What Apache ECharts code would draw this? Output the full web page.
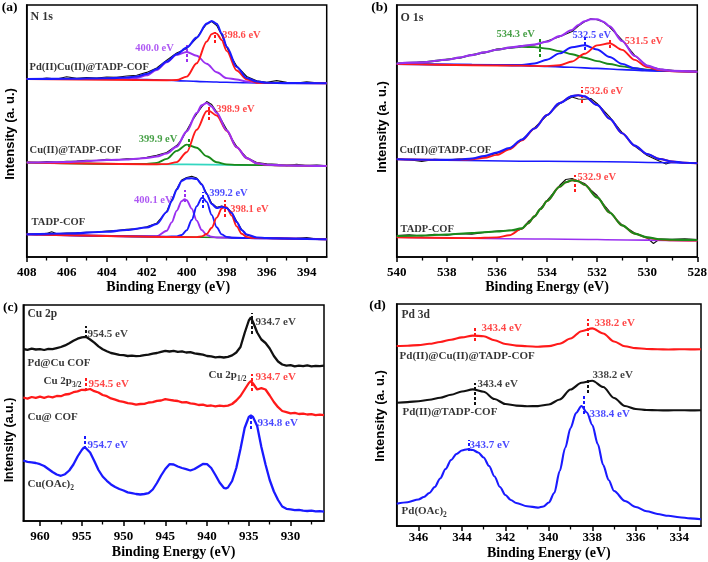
<!DOCTYPE html>
<html><head><meta charset="utf-8">
<script src="https://cdn.jsdelivr.net/npm/echarts@6/dist/echarts.min.js"></script>
<style>html,body{margin:0;padding:0;background:#fff}#c{width:708px;height:562px}</style>
</head><body><div id="c"></div>
<script>
// ================= DATA (binding energy eV, intensity in a.u.) =================
// ---- tick values ----
const aTicks = [394, 396, 398, 400, 402, 404, 406, 408];
const aMinor = [395, 397, 399, 401, 403, 405, 407];
const bTicks = [528, 530, 532, 534, 536, 538, 540];
const bMinor = [529, 531, 533, 535, 537, 539];
const cTicks = [930, 935, 940, 945, 950, 955, 960];
const cMinor = [927.5, 932.5, 937.5, 942.5, 947.5, 952.5, 957.5];
const dTicks = [334, 336, 338, 340, 342, 344, 346];
const dMinor = [335, 337, 339, 341, 343, 345];

// ---- (a) N 1s ----
const aSamples = ['Pd(II)Cu(II)@TADP-COF', 'Cu(II)@TADP-COF', 'TADP-COF'];
const aPeaks = [400.0, 398.6, 399.9, 398.9, 400.1, 399.2, 398.1];
const a1Raw = [[408,178.3],[407.5,177.6],[407,178.9],[406.5,178.0],[406,180.2],[405.5,178.6],[405,179.4],[404.5,179.0],[404,180.0],[403.5,179.6],[403,181.0],[402.5,181.8],[402,184.6],[401.5,189.0],[401,196.8],[400.5,204.0],[400,208.5],[399.75,214.0],[399.5,219.0],[399.25,226.5],[399,233.0],[398.75,235.5],[398.5,231.5],[398.25,222.0],[398,210.0],[397.75,199.5],[397.5,191.0],[397,180.5],[396.5,176.2],[396,174.8],[395.5,176.4],[395,174.6],[394.5,174.0],[394,175.3],[393.5,174.1],[393,174.3]];
const a1Base = [[408,178],[404,178],[402,177.4],[401,176.8],[400,176],[399,175.3],[398,174.7],[397,174.2],[396,174],[393,173.7]];
const a1Purple = [[408,178],[404,178],[403,178.2],[402.5,179],[402,181.6],[401.5,186.9],[401,194.7],[400.5,202.1],[400,205],[399.5,201.3],[399,193.2],[398.5,184.8],[398,178.9],[397.5,177.5],[397,175.5],[396.5,174.2],[396,174],[393,173.7]];
const a1Red = [[408,178],[401,176.8],[400.5,177.0],[400,180.4],[399.5,193.7],[399,215.5],[398.75,222.9],[398.6,224.1],[398.5,223.4],[398.25,217.0],[398,206.1],[397.5,186.5],[397,177.7],[396.5,174.3],[396,174],[393,173.7]];
const a1Env = [[408,178],[406,178.2],[404,178.8],[403,179.5],[402.5,180.5],[402,183],[401.5,188],[401,195.5],[400.5,202.7],[400,209.4],[399.5,219.4],[399,233.4],[398.75,236],[398.5,233.2],[398.25,223.5],[398,210.3],[397.5,190],[397,179],[396.5,175.5],[396,174.2],[395,173.9],[393,173.7]];
const a2Raw = [[408,94.8],[407.5,94.3],[407,95.4],[406.5,94.9],[406,95.6],[405.5,95.9],[405,96.8],[404.5,96.5],[404,97.6],[403.5,97.1],[403,98.2],[402.5,98.0],[402,99.6],[401.5,101.8],[401,104.5],[400.5,111.5],[400.25,117.5],[400,126.5],[399.75,135.5],[399.5,143.0],[399.25,150.0],[399,155.5],[398.75,152.5],[398.5,145.0],[398.25,136.5],[398,127.5],[397.75,118.5],[397.5,110.5],[397,99.5],[396.5,94.5],[396,93.2],[395.5,92.8],[395,91.4],[394.5,92.6],[394,91.3],[393.5,92.0],[393,91.2]];
const a2Base = [[408,94.5],[400,92.6],[396,91.7],[393,91]];
const a2Green = [[408,94.5],[402.5,93.0],[402,93.1],[401.5,94.1],[401,98.1],[400.5,106.1],[400,112.4],[399.5,109.3],[399,100.7],[398.5,94.7],[398,92.6],[397.5,92.1],[393,91]];
const a2Red = [[408,94.5],[401.5,92.8],[401,92.9],[400.5,94.9],[400,104.8],[399.5,127.2],[399,145.7],[398.9,146.3],[398.5,141.5],[398,126.2],[397.5,109.7],[397,98.8],[396.5,93.7],[396,92.1],[395.5,91.6],[393,91]];
const a2Env = [[408,94.5],[406,95],[405,96],[404,97],[403,97.5],[402,99],[401.5,100.5],[401,103.5],[400.5,110.4],[400,125.6],[399.5,144],[399.25,151.6],[399,154],[398.75,150.4],[398.5,144.2],[398,126.6],[397.5,109.8],[397,98.9],[396.5,93.8],[396,92.2],[395,91.5],[394,91.2],[393,91]];
const a3Raw = [[408,22.9],[407.5,22.4],[407,23.6],[406.75,25.2],[406.5,23.3],[406,23.9],[405.5,24.1],[405,24.8],[404.5,25.0],[404,26.0],[403.5,26.4],[403,27.8],[402.5,28.1],[402,30.2],[401.5,33.8],[401,45.5],[400.75,57.0],[400.5,68.0],[400.25,77.0],[400,79.5],[399.75,80.8],[399.5,79.0],[399.25,73.0],[399,63.5],[398.75,53.8],[398.5,49.8],[398.25,51.0],[398,49.5],[397.75,44.5],[397.5,35.8],[397.25,27.5],[397,22.0],[396.5,19.2],[396,18.6],[395.5,19.5],[395,18.3],[394.5,18.6],[394,19.4],[393.5,18.0],[393,18.2]];
const a3Base = [[408,22.7],[400,20.0],[396,18.7],[393,17.7]];
const a3Purple = [[408,22.7],[402,20.7],[401.5,20.9],[401,26.3],[400.75,34.6],[400.5,46.3],[400.25,55.9],[400.1,57.7],[400,56.8],[399.75,48.4],[399.5,36.4],[399.25,27.0],[399,22.1],[398.75,20.2],[398.5,19.5],[396,18.7],[393,17.7]];
const a3Blue = [[408,22.7],[401,20.4],[400.5,20.6],[400.25,22.0],[400,26.7],[399.75,37.0],[399.5,50.7],[399.25,59.0],[399.2,59.3],[399,55.1],[398.75,42.1],[398.5,29.7],[398.25,22.6],[398,20.1],[397.75,19.3],[396,18.7],[393,17.7]];
const a3Red = [[408,22.7],[399.5,19.9],[399.25,20.6],[399,23.0],[398.75,29.2],[398.5,39.4],[398.25,48.5],[398.1,50.3],[398,49.6],[397.75,41.4],[397.5,30.6],[397.25,23.3],[397,20.1],[396.75,19.1],[396.5,18.9],[393,17.7]];
const a3Env = [[408,22.7],[406,23.5],[404,25.3],[403,27],[402,29.5],[401.5,33],[401,45],[400.75,56],[400.5,67.5],[400.25,76],[400,78.5],[399.75,78.7],[399.5,78],[399.25,72.5],[399,63],[398.75,53],[398.5,49],[398.25,50.2],[398,49],[397.75,44],[397.5,35],[397.25,27],[397,22.5],[396.5,19.5],[396,19],[395,18.5],[394,18],[393,17.7]];

// ---- (b) O 1s ----
const bSamples = ['Cu(II)@TADP-COF', 'TADP-COF'];
const bPeaks = [534.3, 532.5, 531.5, 532.6, 532.9];
const b1Raw = [[540,193.8],[539.5,193.4],[539,195.2],[538.5,195.6],[538,197.8],[537.5,198.7],[537,202.4],[536.5,204.0],[536,207.9],[535.5,208.8],[535,211.5],[534.5,212.0],[534,215.9],[533.5,220.3],[533,225.5],[532.75,231.0],[532.5,235.2],[532.25,238.3],[532,237.2],[531.75,235.0],[531.5,230.0],[531.25,223.5],[531,216.8],[530.5,201.6],[530,191.0],[529.5,187.9],[529,186.8],[528.5,185.5],[528,186.0]];
const b1Base = [[540,193],[537,192.4],[535,191.4],[534,190.6],[533,189.7],[532,188.6],[531,187.4],[530,186.3],[529,185.7],[528,185.3]];
const b1Green = [[540,193.5],[539,194.6],[538,197.3],[537.5,199.4],[537,201.9],[536.5,204.6],[536,207.2],[535.5,209.2],[535,210.2],[534.5,209.9],[534,208.4],[533.5,205.9],[533,202.7],[532.5,199.3],[532,195.9],[531.5,193],[531,190.6],[530.5,188.7],[530,187.3],[529.5,186.6],[529,186],[528,185.3]];
const b1Blue = [[540,193],[536,192],[535,192.1],[534.5,193.5],[534,197.3],[533.5,203.6],[533,209.7],[532.5,211.7],[532,207.5],[531.5,200],[531,193.1],[530.5,188.8],[530,186.8],[529.5,186.1],[528,185.3]];
const b1Red = [[540,193],[535,191.4],[534,190.9],[533.5,191.8],[533,195.5],[532.5,203.2],[532,211.6],[531.5,213.8],[531,207.1],[530.5,197.1],[530,189.9],[529.5,186.9],[529,185.8],[528,185.3]];
const b1Env = [[540,193.5],[539,194.6],[538,197.3],[537.5,199.4],[537,201.9],[536.5,204.6],[536,207.3],[535.5,209.4],[535,210.9],[534.5,212.5],[534,215.4],[533.5,220.9],[533,227],[532.75,232],[532.5,235.8],[532.25,237.8],[532,237.8],[531.75,235.3],[531.5,230.8],[531,216],[530.5,201],[530,191.4],[529.5,187.6],[529,186.1],[528,185.3]];
const b2Raw = [[540,97.9],[539.5,97.3],[539,95.5],[538.5,97.6],[538,97.2],[537.5,97.9],[537,98.2],[536.5,100.6],[536,103.8],[535.5,108.2],[535,117.0],[534.5,129.2],[534,141.6],[533.5,153.2],[533,160.0],[532.75,158.0],[532.5,157.8],[532.25,158.5],[532,153.5],[531.5,140.2],[531,124.5],[530.5,111.0],[530,101.5],[529.5,95.8],[529.25,93.0],[529,95.0],[528.5,94.2],[528,94.3]];
const b2Base = [[540,97.7],[534,95.7],[528,93.7]];
const b2Red = [[540,97.7],[538,97.1],[537.5,97.2],[537,97.7],[536.5,99.1],[536,102.1],[535.5,107.7],[535,116.6],[534.5,128.5],[534,142],[533.5,153.9],[533,160.9],[532.75,161.8],[532.5,160.6],[532,152.1],[531.5,138.4],[531,123.7],[530.5,111.4],[530,102.9],[529.5,98],[529,95.5],[528.5,94.3],[528,93.8]];
const b2Env = [[540,97.7],[538,97.1],[537.5,97.4],[537,98.5],[536.5,101],[536,104.5],[535.5,109],[535,117.5],[534.5,128.5],[534,142],[533.5,153.9],[533,160.9],[532.75,161.8],[532.5,160.6],[532,152.1],[531.5,138.4],[531,123.7],[530.5,111.4],[530,102.9],[529.5,98],[529,95.5],[528.5,94.3],[528,93.8]];
const b3Raw = [[540,21.5],[539.5,22.3],[539,21.0],[538.5,22.8],[538,21.9],[537.5,23.4],[537,22.8],[536.5,24.6],[536,25.9],[535.5,26.8],[535.25,26.0],[535,28.0],[534.75,35.5],[534.5,40.0],[534.25,48.8],[534,56.5],[533.75,64.0],[533.5,71.5],[533.25,77.5],[533,78.5],[532.75,76.0],[532.5,73.5],[532.25,67.0],[532,61.5],[531.75,53.0],[531.5,45.5],[531.25,38.0],[531,32.0],[530.5,24.0],[530,19.0],[529.75,13.5],[529.5,18.0],[529,17.6],[528.5,18.2],[528,17.5]];
const b3Base = [[540,19.7],[534,18.0],[530,16.9],[528,16.3]];
const b3Red = [[540,19.7],[537,18.9],[536,19.6],[535.5,21.8],[535,28.4],[534.75,33.8],[534.5,40.7],[534.25,48.1],[534,56],[533.5,70.2],[533.25,74.7],[533,76.7],[532.75,75.8],[532.5,72.3],[532,59.6],[531.5,44.4],[531,31.6],[530.5,23.4],[530,19.3],[529.5,17.4],[529,16.7],[528,16.4]];
const b3Green = [[540,21],[539,21.5],[538,22.5],[537,24],[536,25.5],[535.5,26.5],[535,28.6],[534.75,33.8],[534.5,40.7],[534.25,48.1],[534,56],[533.5,70.2],[533.25,74.7],[533,76.7],[532.75,75.8],[532.5,72.3],[532,59.6],[531.5,44.4],[531,31.6],[530.5,23.4],[530,19.6],[529.5,17.8],[529,17.2],[528,17]];

// ---- (c) Cu 2p ----
const cSamples = ['Pd@Cu COF', 'Cu@ COF', ['Cu(OAc)', '2']];
const cPeaks = [954.5, 934.7, 954.5, 934.7, 954.7, 934.8];
const cPdCu = [[962,172.0],[961.5,171.2],[961,172.3],[960.5,171.5],[960,171.9],[959.5,171.0],[959,172.2],[958.5,171.8],[958,172.9],[957.5,174.0],[957,175.6],[956.5,177.8],[956,180.2],[955.5,182.3],[955,183.6],[954.5,184.2],[954,181.5],[953.5,178.3],[953,174.6],[952.5,171.8],[952,169.8],[951.5,168.0],[951,167.2],[950.5,166.1],[950,165.8],[949.5,165.0],[949,165.4],[948.5,164.8],[948,165.2],[947.5,165.9],[947,166.3],[946.5,167.4],[946,168.0],[945.5,169.1],[945,170.2],[944.5,169.5],[944,170.1],[943.5,169.2],[943,169.6],[942.5,168.5],[942,168.9],[941.5,167.6],[941,167.0],[940.5,166.3],[940,165.0],[939.5,164.6],[939,163.7],[938.5,164.2],[938,163.5],[937.5,164.1],[937,165.6],[936.5,168.5],[936,174.0],[935.5,188.0],[935,200.5],[934.75,203.5],[934.5,199.0],[934,188.5],[933.5,181.5],[933,178.0],[932.5,172.5],[932,165.0],[931.5,159.5],[931,156.5],[930.5,155.4],[930,155.8],[929.5,154.6],[929,155.3],[928.5,154.8],[928,155.6],[927.5,154.7],[927,155.2],[926.5,154.9],[926,155.3]];
const cCu = [[962,123.5],[961.5,122.4],[961,124.0],[960.5,123.1],[960,124.3],[959.5,123.2],[959,124.5],[958.5,123.6],[958,125.0],[957.5,124.8],[957,126.5],[956.5,127.0],[956,128.8],[955.5,129.6],[955,131.2],[954.5,131.0],[954,132.0],[953.5,129.8],[953,128.5],[952.5,126.0],[952,124.8],[951.5,122.6],[951,121.4],[950.5,119.9],[950,119.2],[949.5,117.8],[949,117.3],[948.5,116.4],[948,117.0],[947.5,117.2],[947,118.5],[946.5,118.8],[946,120.2],[945.5,120.5],[945,121.8],[944.5,121.2],[944,120.5],[943.5,120.0],[943,118.6],[942.5,118.9],[942,117.6],[941.5,117.2],[941,116.0],[940.5,116.4],[940,115.2],[939.5,115.5],[939,114.6],[938.5,115.3],[938,114.8],[937.5,115.4],[937,117.0],[936.5,120.5],[936,125.0],[935.5,131.5],[935,138.0],[934.75,140.0],[934.5,137.5],[934,131.5],[933.5,132.8],[933,131.5],[932.5,125.5],[932,119.0],[931.5,113.8],[931,110.0],[930.5,108.8],[930,107.6],[929.5,108.2],[929,107.0],[928.5,107.4],[928,106.5],[927.5,106.9],[927,105.8],[926.5,106.4],[926,105.9]];
const cOAc = [[962,60.5],[961.5,59.2],[961,58.6],[960.5,58.0],[960,56.8],[959.5,55.0],[959,52.0],[958.5,49.0],[958,46.5],[957.5,45.2],[957,46.8],[956.5,50.5],[956,56.5],[955.5,64.5],[955,71.0],[954.75,73.5],[954.5,72.8],[954,68.5],[953.5,60.0],[953,51.0],[952.5,44.5],[952,40.2],[951.5,36.6],[951,34.0],[950.5,32.0],[950,30.5],[949.5,28.6],[949,27.9],[948.5,27.0],[948,26.5],[947.5,27.0],[947,27.8],[946.5,31.5],[946,38.0],[945.5,45.5],[945,52.0],[944.5,56.8],[944,56.5],[943.5,54.5],[943,53.0],[942.5,51.8],[942,50.5],[941.5,52.0],[941,54.5],[940.5,57.0],[940,56.8],[939.5,53.0],[939,46.0],[938.5,38.5],[938,33.2],[937.75,32.5],[937.5,33.5],[937,40.0],[936.5,53.0],[936,72.0],[935.5,93.0],[935,104.0],[934.75,105.5],[934.5,104.0],[934,95.0],[933.5,74.0],[933,56.5],[932.5,41.0],[932,29.5],[931.5,21.0],[931,14.5],[930.5,12.2],[930,11.6],[929.5,10.9],[929,11.2],[928.5,10.4],[928,10.0],[927.5,10.3],[927,9.6],[926.5,9.8],[926,9.4]];

// ---- (d) Pd 3d ----
const dSamples = ['Pd(II)@Cu(II)@TADP-COF', 'Pd(II)@TADP-COF', ['Pd(OAc)', '2']];
const dPeaks = [343.4, 338.2, 343.4, 338.2, 343.7, 338.4];
const dPdCu = [[347,180.0],[346.5,180.3],[346,180.9],[345.5,182.2],[345,184.0],[344.5,186.3],[344,188.6],[343.5,190.4],[343,189.8],[342.5,185.8],[342,182.0],[341.5,180.4],[341,179.8],[340.5,179.3],[340,179.9],[339.5,182.3],[339,187.5],[338.5,194.8],[338,197.6],[337.5,192.5],[337,184.5],[336.5,179.8],[336,177.9],[335.5,177.0],[335,176.8],[334.5,176.5],[334,176.8],[333.5,176.6],[333,176.7]];
const dPd = [[347,123.3],[346.5,123.9],[346,124.8],[345.5,126.3],[345,128.3],[344.5,131.2],[344,134.5],[343.5,136.6],[343,134.2],[342.5,127.0],[342,122.0],[341.5,120.4],[341,119.8],[340.5,119.9],[340,121.5],[339.5,126.5],[339,136.5],[338.5,143.3],[338,145.2],[337.5,139.0],[337,128.0],[336.5,120.0],[336,117.0],[335.5,116.0],[335,115.7],[334.5,115.6],[334,115.8],[333.5,115.6],[333,115.7]];
const dOAc = [[347,22.3],[346.5,23.8],[346,26.5],[345.75,29.0],[345.5,33.0],[345.25,39.0],[345,47.5],[344.75,57.0],[344.5,66.0],[344.25,72.0],[344,75.5],[343.75,76.8],[343.5,76.0],[343.25,73.5],[343,68.5],[342.75,60.0],[342.5,49.5],[342.25,39.0],[342,31.0],[341.75,26.0],[341.5,23.0],[341,19.8],[340.5,18.4],[340.25,19.5],[340,23.5],[339.75,33.0],[339.5,55.0],[339.25,78.0],[339,98.0],[338.75,113.0],[338.5,120.0],[338.25,113.5],[338,101.0],[337.75,82.0],[337.5,61.0],[337.25,46.0],[337,35.0],[336.5,25.0],[336,19.0],[335.5,14.8],[335,12.0],[334.5,10.2],[334,8.8],[333.5,7.6],[333,6.7]];

// ================= STYLE / LAYOUT =================
const SERIF = '"Liberation Serif","Times New Roman",serif';
const SANS = '"Liberation Sans",Arial,sans-serif';
const BLUE = '#1a1aff', RED = '#ff1a1a', GREEN = '#1a8a1a', PURPLE = '#9a30f0', CYAN = '#33d6c0', BLACK = '#111111';

const gridBoxes = [
  {left: 26.7, top: 5, width: 300, height: 252},
  {left: 396.7, top: 5, width: 300.6, height: 252},
  {left: 23.3, top: 305, width: 300.7, height: 216},
  {left: 396.7, top: 304, width: 304.3, height: 222}
];
const yMax = [252, 252, 216, 222];

function xAxis(gi, min, max, ticks, o) {
  return {
    gridIndex: gi, type: 'value', min, max, inverse: true,
    name: 'Binding Energy (eV)', nameLocation: 'middle', nameGap: o.nameGap,
    nameTextStyle: {fontFamily: SERIF, fontWeight: 'bold', fontSize: 14, color: '#000', padding: o.namePad || 0},
    axisLine: {show: true, onZero: false, lineStyle: {color: '#000', width: 1.5}},
    axisTick: {show: true, inside: false, length: 5, customValues: ticks, lineStyle: {color: '#000', width: 1.5}},
    axisLabel: {fontFamily: SERIF, fontWeight: 'bold', fontSize: 13, color: '#000', margin: o.margin, customValues: ticks},
    splitLine: {show: false}
  };
}
function minorAxis(gi, min, max, ticks) {
  return {
    gridIndex: gi, type: 'value', min, max, inverse: true, position: 'bottom',
    axisLine: {show: false, onZero: false},
    axisTick: {show: true, inside: false, length: 3.5, customValues: ticks, lineStyle: {color: '#000', width: 1.3}},
    axisLabel: {show: false}, splitLine: {show: false}
  };
}
function yAxis(gi) {
  return {gridIndex: gi, type: 'value', min: 0, max: yMax[gi],
    axisLine: {show: true, onZero: false, lineStyle: {color: '#000', width: 1.5}},
    axisTick: {show: false}, axisLabel: {show: false}, splitLine: {show: false}};
}
function line(gi, data, color, width, smooth, z) {
  return {type: 'line', xAxisIndex: gi, yAxisIndex: gi, data, symbol: 'none', showSymbol: false,
    smooth: smooth ? 0.3 : false, smoothMonotone: 'x', lineStyle: {color, width}, itemStyle: {color},
    z: z || 2, silent: true, animation: false};
}
function noteSeries(gi, peaks, notes, fs) {
  return {type: 'scatter', xAxisIndex: gi, yAxisIndex: gi, symbolSize: 1, silent: true, animation: false, z: 10,
    itemStyle: {color: 'rgba(0,0,0,0)'},
    data: notes.map(n => ({value: n.at, label: {show: true, formatter: peaks[n.p].toFixed(1) + ' eV', color: n.c,
      position: n.center ? 'inside' : 'right', distance: 0, fontFamily: SERIF, fontWeight: 'bold', fontSize: fs}})),
    markLine: {silent: true, animation: false, symbol: ['none', 'none'], label: {show: false},
      data: notes.map(n => [{coord: [peaks[n.p], n.m[0]], lineStyle: {color: n.c, type: [3, 2], width: 2}},
                            {coord: [peaks[n.p], n.m[1]]}])}
  };
}
function textSeries(gi, items) {
  return {type: 'scatter', xAxisIndex: gi, yAxisIndex: gi, symbolSize: 1, silent: true, animation: false, z: 10,
    itemStyle: {color: 'rgba(0,0,0,0)'},
    data: items.map(it => {
      const t = it.t;
      const fmt = Array.isArray(t) ? '{m|' + t[0] + '}{s|' + t[1] + '}' : '{m|' + t + '}';
      return {value: it.at, label: {show: true, formatter: fmt, position: 'right', distance: 0,
        rich: {m: {fontFamily: SERIF, fontWeight: 'bold', fontSize: it.fs, color: '#000', lineHeight: 15, verticalAlign: 'middle'},
               s: {fontFamily: SERIF, fontWeight: 'bold', fontSize: it.fs * 0.68, color: '#000', lineHeight: 15, verticalAlign: 'bottom'}}}};
    })
  };
}

// annotation layouts (positions in data coordinates)
const aNotes = [
  {p: 0, m: [195, 212], at: [401.61, 209], c: PURPLE, center: true},
  {p: 1, m: [214, 225], at: [398.25, 222], c: RED},
  {p: 2, m: [110, 119], at: [402.42, 118], c: GREEN},
  {p: 3, m: [137, 150], at: [398.55, 148], c: RED},
  {p: 4, m: [55, 67], at: [402.66, 57], c: PURPLE},
  {p: 5, m: [49, 65], at: [398.9, 64], c: BLUE},
  {p: 6, m: [40, 57], at: [397.85, 48], c: RED}
];
const bNotes = [
  {p: 0, m: [200, 219], at: [536.04, 223], c: GREEN},
  {p: 1, m: [207, 220], at: [533.0, 222], c: BLUE},
  {p: 2, m: [209, 219], at: [530.92, 216], c: RED},
  {p: 3, m: [154, 170], at: [532.52, 166], c: RED},
  {p: 4, m: [65, 82], at: [532.8, 80], c: RED}
];
const cNotes = [
  {p: 0, m: [183, 195], at: [954.37, 187], c: BLACK},
  {p: 1, m: [187, 208], at: [934.25, 199], c: BLACK},
  {p: 2, m: [130, 145], at: [954.25, 137], c: RED},
  {p: 3, m: [130, 147], at: [934.25, 144], c: RED},
  {p: 4, m: [72, 85], at: [954.37, 76], c: BLUE},
  {p: 5, m: [92, 107], at: [934.01, 98], c: BLUE}
];
const dNotes = [
  {p: 0, m: [185, 200], at: [343.12, 198], c: RED},
  {p: 1, m: [190, 207], at: [337.92, 203], c: RED},
  {p: 2, m: [121, 143], at: [343.3, 142], c: BLACK},
  {p: 3, m: [133, 148], at: [338.01, 151], c: BLACK},
  {p: 4, m: [75, 86], at: [343.67, 81], c: BLUE},
  {p: 5, m: [112, 130], at: [338.15, 112], c: BLUE}
];

const series = [
  // (a)
  line(0, a1Raw, BLACK, 1.1, false, 2), line(0, a1Base, BLUE, 1.6, true, 3), line(0, a1Purple, PURPLE, 1.9, true, 4),
  line(0, a1Red, RED, 1.9, true, 4), line(0, a1Env, BLUE, 2.1, true, 5),
  line(0, a2Raw, BLACK, 1.1, false, 2), line(0, a2Base, CYAN, 1.6, true, 3), line(0, a2Green, GREEN, 1.9, true, 4),
  line(0, a2Red, RED, 1.9, true, 4), line(0, a2Env, PURPLE, 2.1, true, 5),
  line(0, a3Raw, BLACK, 1.1, false, 2), line(0, a3Base, GREEN, 1.6, true, 3), line(0, a3Purple, PURPLE, 1.9, true, 4),
  line(0, a3Blue, BLUE, 1.9, true, 4), line(0, a3Red, RED, 1.9, true, 4), line(0, a3Env, BLUE, 2.1, true, 5),
  noteSeries(0, aPeaks, aNotes, 10.5),
  textSeries(0, [{t: 'N 1s', at: [407.83, 240], fs: 12}, {t: aSamples[0], at: [407.88, 190], fs: 10.5},
                 {t: aSamples[1], at: [407.88, 107], fs: 10.5}, {t: aSamples[2], at: [407.78, 35], fs: 10.5}]),
  // (b)
  line(1, b1Raw, BLACK, 1.1, false, 2), line(1, b1Base, BLUE, 1.6, true, 3), line(1, b1Green, GREEN, 1.9, true, 4),
  line(1, b1Blue, BLUE, 1.9, true, 4), line(1, b1Red, RED, 1.9, true, 4), line(1, b1Env, PURPLE, 2.1, true, 5),
  line(1, b2Raw, BLACK, 1.1, false, 2), line(1, b2Base, BLUE, 1.6, true, 3), line(1, b2Red, RED, 1.9, true, 4),
  line(1, b2Env, BLUE, 2.1, true, 5),
  line(1, b3Raw, BLACK, 1.1, false, 2), line(1, b3Base, PURPLE, 1.6, true, 3), line(1, b3Red, RED, 1.9, true, 4),
  line(1, b3Green, GREEN, 2.1, true, 5),
  noteSeries(1, bPeaks, bNotes, 10.5),
  textSeries(1, [{t: 'O 1s', at: [539.87, 239], fs: 12}, {t: bSamples[0], at: [539.91, 107], fs: 10.5},
                 {t: bSamples[1], at: [539.87, 28], fs: 10.5}]),
  // (c)
  line(2, cPdCu, BLACK, 2.3, false, 3), line(2, cCu, RED, 2.3, false, 3), line(2, cOAc, BLUE, 2.3, false, 3),
  noteSeries(2, cPeaks, cNotes, 11),
  textSeries(2, [{t: 'Cu 2p', at: [961.56, 207], fs: 11.5}, {t: cSamples[0], at: [961.56, 158], fs: 11},
                 {t: ['Cu 2p', '3/2'], at: [959.64, 140], fs: 11}, {t: ['Cu 2p', '1/2'], at: [939.88, 146], fs: 11},
                 {t: cSamples[1], at: [961.56, 104], fs: 11}, {t: cSamples[2], at: [961.56, 37], fs: 11}]),
  // (d)
  line(3, dPdCu, RED, 2.1, true, 3), line(3, dPd, BLACK, 2.1, true, 3), line(3, dOAc, BLUE, 2.1, true, 3),
  noteSeries(3, dPeaks, dNotes, 11),
  textSeries(3, [{t: 'Pd 3d', at: [346.8, 211], fs: 11.5}, {t: dSamples[0], at: [346.89, 170], fs: 11},
                 {t: dSamples[1], at: [346.76, 114], fs: 11}, {t: dSamples[2], at: [346.8, 15], fs: 11}])
];

function gtext(text, x, y, font, rot) {
  return {type: 'text', x, y, rotation: rot || 0, silent: true,
    style: {text, font, fill: '#000', align: 'center', verticalAlign: 'middle', textAlign: 'center', textVerticalAlign: 'middle'}};
}
const TITLE_FONT = 'bold 13.5px ' + SERIF;
const YNAME_FONT = 'bold 13px ' + SANS;

const option = {
  animation: false,
  backgroundColor: '#fff',
  grid: gridBoxes.map(g => Object.assign({show: true, borderColor: '#000', borderWidth: 1.5,
    backgroundColor: 'transparent', containLabel: false, outerBoundsMode: 'none'}, g)),
  xAxis: [
    xAxis(0, 393, 408, aTicks, {nameGap: 18, margin: 9.5, namePad: [0, 17, 0, 0]}),
    xAxis(1, 528, 540, bTicks, {nameGap: 18, margin: 9.5}),
    xAxis(2, 926, 962, cTicks, {nameGap: 24, margin: 9}),
    xAxis(3, 333, 347, dTicks, {nameGap: 20, margin: 5.5}),
    minorAxis(0, 393, 408, aMinor), minorAxis(1, 528, 540, bMinor),
    minorAxis(2, 926, 962, cMinor), minorAxis(3, 333, 347, dMinor)
  ],
  yAxis: [yAxis(0), yAxis(1), yAxis(2), yAxis(3)],
  series,
  graphic: [
    gtext('(a)', 9.5, 8, TITLE_FONT), gtext('(b)', 379.5, 8, TITLE_FONT),
    gtext('(c)', 10.5, 307.5, TITLE_FONT), gtext('(d)', 377.5, 306, TITLE_FONT),
    gtext('Intensity (a. u.)', 10, 134, YNAME_FONT, Math.PI / 2),
    gtext('Intensity (a. u.)', 382, 127, YNAME_FONT, Math.PI / 2),
    gtext('Intensity (a.u.)', 10, 440, 'bold 12.5px ' + SANS, Math.PI / 2),
    gtext('Intensity (a. u.)', 380, 416, YNAME_FONT, Math.PI / 2)
  ]
};
const chart = echarts.init(document.getElementById('c'));
chart.setOption(option);
</script>
</body></html>
